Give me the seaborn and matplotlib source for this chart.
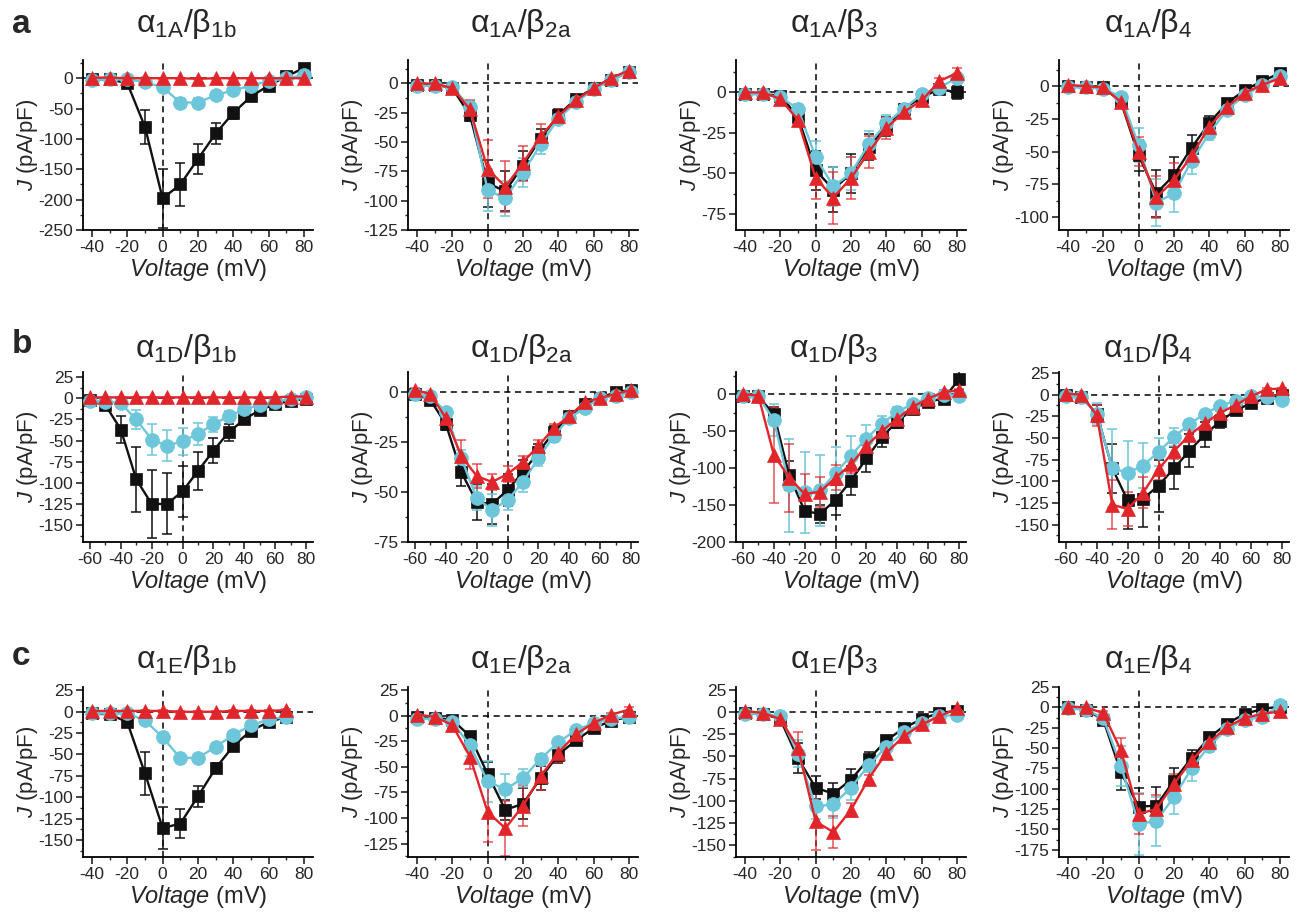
import matplotlib
matplotlib.use('Agg')
import matplotlib.pyplot as plt
from matplotlib.ticker import MultipleLocator
import seaborn as sns

# voltages (mV)
v_a = [-40, -30, -20, -10, 0, 10, 20, 30, 40, 50, 60, 70, 80]
v_b = [-60, -50, -40, -30, -20, -10, 0, 10, 20, 30, 40, 50, 60, 70, 80]
v_c1 = [-40, -30, -20, -10, 0, 10, 20, 30, 40, 50, 60, 70]
v_c = [-40, -30, -20, -10, 0, 10, 20, 30, 40, 50, 60, 70, 80]

# current density (pA/pF): k = black squares, c = cyan circles, r = red triangles
a1_k = [-2, -2, -8, -80, -198, -175, -133, -91, -57, -30, -12, 3, 17]
a1_k_err = [1, 1, 3, 28, 48, 35, 25, 17, 10, 4, 3, 2, 2]
a1_c = [-3, -2, -2, -6, -15, -40, -40, -28, -20, -12, -5, 0, 5]
a1_c_err = [1, 1, 1, 2, 4, 8, 8, 5, 4, 3, 2, 1, 1]
a1_r = [1, 1, 0, 0, 0, 0, -1, 0, 0, 0, 0, 0, 0]
a1_r_err = [1, 1, 1, 1, 1, 1, 1, 1, 1, 1, 1, 1, 1]

a2_k = [-1, -1, -4, -27, -85, -92, -70, -47, -27, -13, -4, 3, 10]
a2_k_err = [2, 2, 2, 5, 20, 17, 12, 8, 5, 3, 2, 2, 3]
a2_c = [-2, -2, -3, -20, -91, -98, -76, -52, -30, -16, -5, 3, 10]
a2_c_err = [2, 2, 2, 5, 18, 15, 12, 8, 5, 3, 2, 2, 3]
a2_r = [0, 0, -4, -22, -73, -88, -68, -45, -28, -14, -4, 5, 11]
a2_r_err = [2, 2, 2, 8, 25, 22, 15, 10, 6, 3, 2, 2, 3]

a3_k = [-1, -1, -2, -15, -48, -60, -50, -34, -21, -10, -3, 2, 0]
a3_k_err = [1, 1, 1, 3, 12, 14, 12, 8, 6, 3, 2, 2, 4]
a3_c = [-1, -1, -3, -10, -40, -58, -50, -32, -19, -10, -1, 3, 9]
a3_c_err = [1, 1, 1, 3, 10, 12, 10, 8, 5, 3, 2, 2, 2]
a3_r = [0, 0, -4, -17, -53, -65, -53, -37, -22, -12, -5, 7, 12]
a3_r_err = [1, 1, 1, 3, 13, 16, 13, 10, 7, 4, 3, 2, 3]

a4_k = [0, -1, -1, -12, -53, -82, -68, -47, -28, -13, -3, 4, 10]
a4_k_err = [1, 1, 1, 3, 12, 18, 14, 10, 5, 3, 2, 2, 2]
a4_c = [-1, -1, -2, -8, -45, -89, -82, -57, -36, -18, -7, 1, 8]
a4_c_err = [1, 1, 1, 3, 13, 18, 14, 10, 5, 3, 2, 2, 2]
a4_r = [1, 0, -1, -12, -50, -85, -72, -53, -31, -16, -5, 1, 6]
a4_r_err = [1, 1, 1, 3, 11, 16, 13, 8, 5, 3, 2, 2, 2]

b1_k = [-2, -8, -37, -96, -125, -125, -110, -86, -62, -40, -25, -14, -7, -3, -1]
b1_k_err = [1, 3, 16, 38, 40, 36, 30, 22, 15, 10, 5, 3, 2, 1, 1]
b1_c = [-3, -4, -6, -25, -49, -56, -51, -42, -31, -21, -13, -8, -4, -1, 2]
b1_c_err = [1, 1, 3, 11, 18, 18, 16, 13, 9, 6, 4, 2, 2, 1, 1]
b1_r = [1, 1, 1, 1, 1, 1, 1, 1, 1, 1, 1, 1, 1, 2, 2]
b1_r_err = [1, 1, 1, 1, 1, 1, 1, 1, 1, 1, 1, 1, 1, 1, 1]

b2_k = [-1, -4, -16, -40, -55, -56, -49, -40, -30, -20, -12, -6, -3, 0, 1]
b2_k_err = [1, 1, 3, 7, 9, 10, 8, 6, 4, 3, 2, 1, 1, 1, 1]
b2_c = [-1, -2, -10, -33, -53, -59, -54, -45, -33, -22, -13, -8, -3, -2, 0]
b2_c_err = [1, 1, 2, 4, 6, 8, 5, 5, 4, 3, 2, 1, 1, 1, 1]
b2_r = [1, -1, -13, -32, -42, -45, -41, -35, -27, -18, -12, -5, -3, -1, 1]
b2_r_err = [1, 1, 3, 8, 6, 4, 4, 3, 3, 2, 2, 1, 1, 1, 1]

b3_k = [-2, -3, -27, -110, -158, -162, -143, -117, -87, -58, -37, -20, -10, -6, 20]
b3_k_err = [2, 2, 10, 20, 5, 12, 20, 20, 18, 13, 9, 5, 4, 4, 14]
b3_c = [-2, -3, -35, -123, -133, -130, -107, -83, -60, -40, -24, -13, -5, -1, -2]
b3_c_err = [2, 2, 22, 63, 55, 48, 35, 26, 18, 10, 6, 4, 3, 2, 2]
b3_r = [0, -2, -82, -113, -135, -132, -113, -95, -70, -50, -33, -17, -6, 3, 5]
b3_r_err = [1, 1, 65, 46, 27, 20, 17, 12, 12, 8, 6, 4, 3, 2, 2]

b4_k = [-1, -3, -22, -85, -122, -120, -105, -85, -65, -46, -31, -18, -10, -4, -1]
b4_k_err = [1, 2, 10, 28, 33, 33, 30, 24, 19, 14, 8, 4, 3, 2, 1]
b4_c = [-2, -3, -22, -85, -90, -82, -66, -49, -34, -22, -13, -7, -2, -3, -6]
b4_c_err = [1, 2, 12, 45, 37, 26, 16, 10, 5, 3, 2, 2, 1, 1, 2]
b4_r = [1, 0, -24, -127, -132, -113, -86, -65, -47, -33, -21, -12, -2, 6, 7]
b4_r_err = [1, 1, 12, 28, 20, 18, 13, 9, 6, 5, 3, 2, 1, 1, 1]

c1_k = [-2, -3, -12, -72, -136, -131, -99, -66, -40, -22, -12, -6]
c1_k_err = [1, 1, 3, 25, 25, 17, 12, 6, 3, 2, 1, 1]
c1_c = [-2, -2, -2, -10, -30, -54, -54, -41, -27, -16, -9, -6]
c1_c_err = [1, 1, 1, 2, 3, 4, 4, 3, 2, 2, 1, 1]
c1_r = [1, 1, 1, 1, 1, 0, 0, 0, 1, 1, 1, 2]
c1_r_err = [1, 1, 1, 1, 1, 1, 1, 1, 1, 1, 1, 1]

c2_k = [-1, -2, -4, -20, -57, -92, -86, -61, -38, -24, -12, -5, -1]
c2_k_err = [1, 1, 2, 4, 12, 10, 15, 12, 8, 4, 3, 2, 1]
c2_c = [-3, -3, -6, -29, -64, -72, -61, -42, -26, -14, -7, -3, -1]
c2_c_err = [1, 1, 2, 10, 20, 15, 9, 5, 3, 2, 2, 1, 1]
c2_r = [1, -1, -9, -40, -94, -110, -88, -59, -36, -18, -7, 1, 6]
c2_r_err = [1, 1, 3, 12, 29, 27, 20, 14, 9, 5, 3, 2, 2]

c3_k = [-1, -2, -8, -52, -85, -92, -76, -53, -32, -18, -8, -1, 1]
c3_k_err = [1, 1, 2, 17, 13, 12, 12, 8, 5, 3, 2, 1, 1]
c3_c = [-2, -2, -5, -47, -106, -104, -85, -60, -39, -23, -13, -5, -3]
c3_c_err = [1, 1, 2, 15, 14, 15, 14, 8, 5, 3, 2, 1, 1]
c3_r = [1, -1, -8, -40, -123, -135, -110, -75, -46, -27, -14, -5, 4]
c3_r_err = [1, 1, 2, 17, 32, 18, 8, 4, 3, 3, 2, 1, 1]

c4_k = [0, -3, -15, -80, -122, -121, -90, -62, -37, -20, -8, -2, 1]
c4_k_err = [1, 1, 3, 22, 23, 23, 15, 10, 5, 3, 2, 1, 1]
c4_c = [-1, -3, -13, -72, -143, -140, -110, -75, -47, -27, -15, -12, 3]
c4_c_err = [1, 1, 3, 25, 38, 30, 21, 15, 8, 4, 3, 2, 2]
c4_r = [1, 0, -7, -53, -131, -125, -94, -65, -43, -24, -13, -8, -5]
c4_r_err = [1, 1, 2, 15, 25, 17, 12, 8, 5, 3, 2, 2, 1]

alphas = ['1A', '1D', '1E']
betas = ['1b', '2a', '3', '4']

BLACK = '#111111'
CYAN = '#6dc6d9'
RED = '#e1262b'

sns.set_style('ticks')
plt.rcParams['font.family'] = ['Liberation Sans', 'DejaVu Sans']
plt.rcParams['mathtext.fontset'] = 'custom'
plt.rcParams['mathtext.rm'] = 'Liberation Sans'
plt.rcParams['mathtext.it'] = 'Liberation Sans:italic'
plt.rcParams['axes.unicode_minus'] = False

panels = [
    [(v_a, a1_k, a1_k_err, a1_c, a1_c_err, a1_r, a1_r_err, (-250, 30), 50),
     (v_a, a2_k, a2_k_err, a2_c, a2_c_err, a2_r, a2_r_err, (-125, 20), 25),
     (v_a, a3_k, a3_k_err, a3_c, a3_c_err, a3_r, a3_r_err, (-85, 20), 25),
     (v_a, a4_k, a4_k_err, a4_c, a4_c_err, a4_r, a4_r_err, (-110, 20), 25)],
    [(v_b, b1_k, b1_k_err, b1_c, b1_c_err, b1_r, b1_r_err, (-170, 31), 25),
     (v_b, b2_k, b2_k_err, b2_c, b2_c_err, b2_r, b2_r_err, (-75, 10), 25),
     (v_b, b3_k, b3_k_err, b3_c, b3_c_err, b3_r, b3_r_err, (-200, 30), 50),
     (v_b, b4_k, b4_k_err, b4_c, b4_c_err, b4_r, b4_r_err, (-170, 26), 25)],
    [(v_c1, c1_k, c1_k_err, c1_c, c1_c_err, c1_r, c1_r_err, (-170, 29), 25),
     (v_c, c2_k, c2_k_err, c2_c, c2_c_err, c2_r, c2_r_err, (-138, 28), 25),
     (v_c, c3_k, c3_k_err, c3_c, c3_c_err, c3_r, c3_r_err, (-163, 28), 25),
     (v_c, c4_k, c4_k_err, c4_c, c4_c_err, c4_r, c4_r_err, (-184, 25), 25)],
]

W, H = 1300, 914
fig = plt.figure(figsize=(13, 9.14), dpi=100)

col_left = [83, 408, 736, 1059]
row_top = [60, 372, 687]
ax_w, ax_h = 230, 170
xlims = [(-45, 85), (-64.5, 84.5), (-45, 85)]
letter_y = [33, 353, 665]
title_x = [186, 521, 834, 1148]
title_y = [32, 357, 668]

for i in range(3):
    fig.text(12 / W, 1 - letter_y[i] / H, 'abc'[i], fontsize=24, fontweight='bold', va='baseline')
    for j in range(4):
        volts, k, ke, c, ce, r, re, ylim, ystep = panels[i][j]
        ax = fig.add_axes([col_left[j] / W, 1 - (row_top[i] + ax_h) / H, ax_w / W, ax_h / H])

        ax.axhline(0, color='black', ls=(0, (4, 3)), lw=1.1, zorder=1)
        ax.axvline(0, color='black', ls=(0, (4, 3)), lw=1.1, zorder=1)

        for vals, errs, color, marker, ms, ealpha in [(k, ke, BLACK, 's', 9, 1.0),
                                                       (c, ce, CYAN, 'o', 10, 1.0),
                                                       (r, re, RED, '^', 10.5, 0.8)]:
            ax.errorbar(volts, vals, yerr=errs, fmt='none', ecolor=color, alpha=ealpha,
                        elinewidth=1.1, capsize=3.5, capthick=1.1, zorder=2)
            sns.lineplot(x=volts, y=vals, ax=ax, color=color, marker=marker, markersize=ms,
                         markeredgecolor=color, markeredgewidth=0.5, lw=1.7,
                         estimator=None, sort=False, zorder=3)

        ax.set_xlim(*xlims[i])
        ax.set_ylim(*ylim)
        ax.xaxis.set_major_locator(MultipleLocator(20))
        ax.xaxis.set_minor_locator(MultipleLocator(10))
        ax.yaxis.set_major_locator(MultipleLocator(ystep))
        ax.yaxis.set_minor_locator(MultipleLocator(ystep / 2))
        ax.tick_params(which='major', direction='out', length=5, width=1.2, labelsize=12.5, pad=2)
        ax.tick_params(which='minor', direction='out', length=2.5, width=1.0)
        for s in ['left', 'bottom']:
            ax.spines[s].set_linewidth(1.3)
            ax.spines[s].set_color('black')
        sns.despine(ax=ax)

        ax.set_xlabel(r'$\mathit{Voltage}$ (mV)', fontsize=17, labelpad=1)
        ax.set_ylabel(r'$\mathit{J}$ (pA/pF)', fontsize=16, labelpad=-1)

        fig.text(title_x[j] / W, 1 - title_y[i] / H,
                 'α$_{\\mathrm{' + alphas[i] + '}}$/β$_{\\mathrm{' + betas[j] + '}}$',
                 fontsize=23, ha='center', va='baseline')

fig.savefig('out.png', dpi=100)
plt.close(fig)
